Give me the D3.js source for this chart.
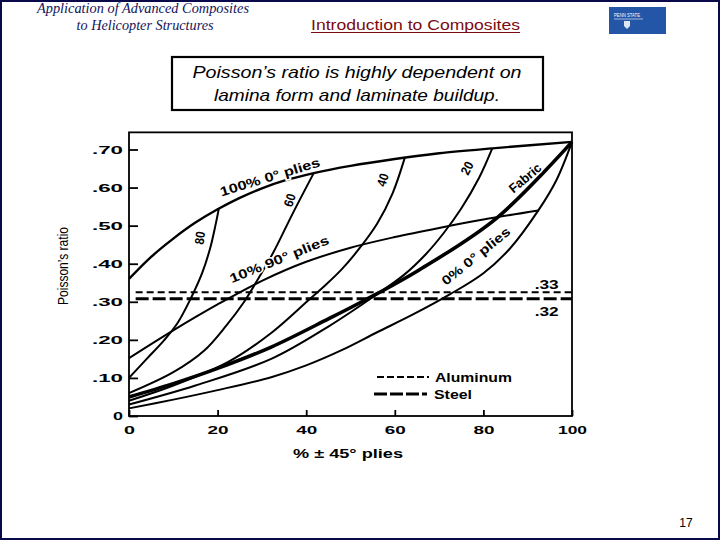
<!DOCTYPE html>
<html><head><meta charset="utf-8">
<script src="https://cdn.jsdelivr.net/npm/d3@7"></script>
<style>
html,body{margin:0;padding:0;background:#fff;}
svg{display:block;}
</style></head>
<body>
<svg id="chart" width="720" height="540"></svg>
<script>
// ---------- data ----------
const xTickValues = [0, 20, 40, 60, 80, 100];
const xTickLabels = ["0", "20", "40", "60", "80", "100"];
const yTickValues = [0, 0.1, 0.2, 0.3, 0.4, 0.5, 0.6, 0.7];
const yTickLabels = ["0", ".10", ".20", ".30", ".40", ".50", ".60", ".70"];

// % ±45° plies  ->  Poisson's ratio
const curve100pct0 = [[0,0.36],[5,0.418],[10,0.466],[15,0.508],[20,0.543],[25,0.573],[30,0.598],[35,0.618],[41.7,0.638],[50,0.657],[60,0.675],[70,0.69],[82,0.703],[100,0.72]];
const curve80 = [[0,0.10],[4,0.15],[8,0.20],[11,0.245],[14,0.31],[16.5,0.375],[18.3,0.44],[19.5,0.50],[20.3,0.546]];
const curve60 = [[0,0.06],[10,0.115],[17,0.172],[22,0.238],[26,0.30],[29.3,0.363],[32.6,0.43],[37,0.533],[41.7,0.638]];
const curve40 = [[0,0.04],[10,0.08],[22.4,0.142],[32.1,0.218],[40.5,0.304],[44,0.34],[48,0.385],[52,0.44],[56,0.505],[59.5,0.585],[62.3,0.68]];
const curve20 = [[0,0.03],[15,0.08],[32.1,0.15],[45,0.235],[56,0.32],[62,0.37],[67,0.425],[71,0.48],[75,0.545],[79,0.625],[82,0.703]];
const curveFabric = [[0,0.05],[10,0.085],[20,0.125],[32.1,0.181],[45,0.255],[53.2,0.304],[65.4,0.383],[83,0.52],[100,0.72]];
const curve0pct0 = [[0,0.02],[10,0.043],[20,0.068],[32.1,0.102],[40,0.133],[48,0.173],[56,0.22],[64,0.266],[72.5,0.32],[80,0.375],[86,0.44],[92.4,0.54],[96.5,0.62],[100,0.72]];
const curve10pct90 = [[0,0.152],[10,0.225],[20,0.293],[30,0.355],[40,0.405],[50,0.442],[60,0.47],[70,0.494],[80,0.516],[92.4,0.54]];

const aluminumNu = 0.325;
const steelNu = 0.308;
const materialNames = ["Aluminum", "Steel"];
const materialLabels = [".33", ".32"];

const curveLabels = ["100% 0° plies", "80", "60", "40", "20", "Fabric", "10% 90° plies", "0% 0° plies"];

// ---------- drawing ----------
const svg = d3.select("#chart");
const FONT = "'Liberation Sans', Arial, Helvetica, sans-serif";

// slide border
svg.append("rect").attr("x", 1).attr("y", 1).attr("width", 718).attr("height", 538)
  .attr("fill", "#fff").attr("stroke", "#0a0a4a").attr("stroke-width", 2);

// header left
svg.append("text").attr("x", 143).attr("y", 13).attr("text-anchor", "middle")
  .attr("font-family", "'Liberation Serif', 'DejaVu Serif', serif").attr("font-style", "italic")
  .attr("font-size", 15).attr("fill", "#14145a").attr("textLength", 212).attr("lengthAdjust", "spacingAndGlyphs")
  .text("Application of Advanced Composites");
svg.append("text").attr("x", 145).attr("y", 30).attr("text-anchor", "middle")
  .attr("font-family", "'Liberation Serif', 'DejaVu Serif', serif").attr("font-style", "italic")
  .attr("font-size", 15).attr("fill", "#14145a").attr("textLength", 137).attr("lengthAdjust", "spacingAndGlyphs")
  .text("to Helicopter Structures");

// header center
svg.append("text").attr("x", 311).attr("y", 30)
  .attr("font-family", FONT).attr("font-size", 15).attr("fill", "#7a0a10")
  .attr("textLength", 209).attr("lengthAdjust", "spacingAndGlyphs")
  .text("Introduction to Composites");
svg.append("line").attr("x1", 311).attr("x2", 520).attr("y1", 32.5).attr("y2", 32.5)
  .attr("stroke", "#7a0a10").attr("stroke-width", 1.2);

// logo
const logo = svg.append("g");
logo.append("rect").attr("x", 609).attr("y", 7).attr("width", 57).attr("height", 27).attr("fill", "#2456a8");
logo.append("text").attr("x", 614).attr("y", 17).attr("font-family", FONT).attr("font-size", 6)
  .attr("fill", "#fff").attr("textLength", 26).attr("lengthAdjust", "spacingAndGlyphs").text("PENN STATE");
logo.append("line").attr("x1", 614).attr("x2", 643).attr("y1", 19).attr("y2", 19).attr("stroke", "#fff").attr("stroke-width", 0.6);
logo.append("path").attr("d", "M624,21 h6 v5 l-3,3 l-3,-3 z").attr("fill", "#dfe6f3");

// title box
svg.append("rect").attr("x", 172).attr("y", 57).attr("width", 371).attr("height", 53)
  .attr("fill", "#fff").attr("stroke", "#000").attr("stroke-width", 2.2);
svg.append("text").attr("x", 357).attr("y", 78).attr("text-anchor", "middle")
  .attr("font-family", FONT).attr("font-style", "italic").attr("font-size", 17)
  .attr("textLength", 329).attr("lengthAdjust", "spacingAndGlyphs")
  .text("Poisson’s ratio is highly dependent on");
svg.append("text").attr("x", 357).attr("y", 101).attr("text-anchor", "middle")
  .attr("font-family", FONT).attr("font-style", "italic").attr("font-size", 17)
  .attr("textLength", 286).attr("lengthAdjust", "spacingAndGlyphs")
  .text("lamina form and laminate buildup.");

// page number
svg.append("text").attr("x", 686).attr("y", 527).attr("text-anchor", "middle")
  .attr("font-family", FONT).attr("font-size", 12).text("17");

// scales
const x = d3.scaleLinear().domain([0, 100]).range([129, 572]);
const y = d3.scaleLinear().domain([0, 0.7]).range([416, 149.5]);
const yTop = 0.745;

// frame
const plot = svg.append("g");
plot.append("rect").attr("x", x(0)).attr("y", y(yTop)).attr("width", x(100) - x(0)).attr("height", y(0) - y(yTop))
  .attr("fill", "none").attr("stroke", "#000").attr("stroke-width", 1.8);

// axes
const yAxis = d3.axisLeft(y).tickValues(yTickValues).tickFormat((d, i) => yTickLabels[i])
  .tickSizeInner(-9).tickSizeOuter(0).tickPadding(6);
const gy = plot.append("g").attr("transform", `translate(${x(0)},0)`).call(yAxis);
gy.select(".domain").remove();
gy.selectAll(".tick line").attr("stroke", "#000").attr("stroke-width", 1.8);
gy.selectAll(".tick text").attr("font-family", FONT).attr("font-weight", "bold").attr("font-size", 11.5)
  .attr("fill", "#000").attr("lengthAdjust", "spacingAndGlyphs")
  .attr("textLength", (d, i) => yTickLabels[i].length === 1 ? 10 : 31);

const xAxis = d3.axisBottom(x).tickValues(xTickValues).tickFormat((d, i) => xTickLabels[i])
  .tickSizeInner(-6).tickSizeOuter(0).tickPadding(10);
const gx = plot.append("g").attr("transform", `translate(0,${y(0)})`).call(xAxis);
gx.select(".domain").remove();
gx.selectAll(".tick line").attr("stroke", "#000").attr("stroke-width", 1.8);
gx.selectAll(".tick text").attr("font-family", FONT).attr("font-weight", "bold").attr("font-size", 11.5)
  .attr("fill", "#000").attr("lengthAdjust", "spacingAndGlyphs")
  .attr("textLength", (d, i) => xTickLabels[i].length === 1 ? 11 : (xTickLabels[i].length === 2 ? 21 : 29));

// axis titles
svg.append("text").attr("x", 348).attr("y", 458).attr("text-anchor", "middle")
  .attr("font-family", FONT).attr("font-weight", "bold").attr("font-size", 12.5)
  .attr("textLength", 110).attr("lengthAdjust", "spacingAndGlyphs")
  .text("%  ± 45° plies");
svg.append("text").attr("transform", "translate(68,266) rotate(-90)").attr("text-anchor", "middle")
  .attr("font-family", FONT).attr("font-size", 15)
  .attr("textLength", 78).attr("lengthAdjust", "spacingAndGlyphs")
  .text("Poisson’s ratio");

// curves
const line = d3.line().x(d => x(d[0])).y(d => y(d[1])).curve(d3.curveCatmullRom.alpha(0.5));
const curves = [
  { data: curve100pct0, w: 2.4 },
  { data: curve80, w: 2 },
  { data: curve60, w: 2 },
  { data: curve40, w: 2 },
  { data: curve20, w: 2 },
  { data: curve0pct0, w: 2 },
  { data: curve10pct90, w: 2 },
  { data: curveFabric, w: 3.6 }
];
plot.selectAll("path.curve").data(curves).enter().append("path").attr("class", "curve")
  .attr("d", d => line(d.data)).attr("fill", "none").attr("stroke", "#000")
  .attr("stroke-width", d => d.w).attr("stroke-linejoin", "round");

// material reference lines
plot.append("line").attr("x1", x(1.5)).attr("x2", x(100)).attr("y1", y(aluminumNu)).attr("y2", y(aluminumNu))
  .attr("stroke", "#000").attr("stroke-width", 2).attr("stroke-dasharray", "7,4");
plot.append("line").attr("x1", x(1.5)).attr("x2", x(100)).attr("y1", y(steelNu)).attr("y2", y(steelNu))
  .attr("stroke", "#000").attr("stroke-width", 3).attr("stroke-dasharray", "13,4");

const valFont = (sel) => sel.attr("font-family", FONT).attr("font-weight", "bold").attr("font-size", 13)
  .attr("textLength", 24).attr("lengthAdjust", "spacingAndGlyphs").attr("text-anchor", "middle");
plot.append("text").attr("x", x(94.3)).attr("y", y(aluminumNu) - 3).call(valFont).text(materialLabels[0]);
plot.append("text").attr("x", x(94.3)).attr("y", y(steelNu) + 17).call(valFont).text(materialLabels[1]);

// legend
const leg = plot.append("g");
leg.append("line").attr("x1", 377).attr("x2", 429).attr("y1", 377).attr("y2", 377)
  .attr("stroke", "#000").attr("stroke-width", 2).attr("stroke-dasharray", "7,3");
leg.append("line").attr("x1", 374).attr("x2", 427).attr("y1", 394).attr("y2", 394)
  .attr("stroke", "#000").attr("stroke-width", 3).attr("stroke-dasharray", "13,3");
leg.append("text").attr("x", 435).attr("y", 381.5).attr("font-family", FONT).attr("font-weight", "bold")
  .attr("font-size", 13).attr("textLength", 77).attr("lengthAdjust", "spacingAndGlyphs").text(materialNames[0]);
leg.append("text").attr("x", 434).attr("y", 398.5).attr("font-family", FONT).attr("font-weight", "bold")
  .attr("font-size", 13).attr("textLength", 38).attr("lengthAdjust", "spacingAndGlyphs").text(materialNames[1]);

// curve labels (placed in data coordinates, rotated along curves)
const labelPlacement = [
  { px: 31.8, py: 0.628, a: -17, len: 104 },
  { px: 16.0, py: 0.468, a: -82, len: 13 },
  { px: 36.3, py: 0.567, a: -72, len: 13 },
  { px: 57.3, py: 0.620, a: -72, len: 13 },
  { px: 76.3, py: 0.651, a: -62, len: 13 },
  { px: 89.4, py: 0.625, a: -40, len: 38 },
  { px: 33.9, py: 0.412, a: -22, len: 106 },
  { px: 78.3, py: 0.420, a: -39, len: 84 }
];
plot.selectAll("text.clabel").data(curveLabels).enter().append("text").attr("class", "clabel")
  .attr("transform", (d, i) => `translate(${x(labelPlacement[i].px)},${y(labelPlacement[i].py)}) rotate(${labelPlacement[i].a})`)
  .attr("text-anchor", "middle").attr("dominant-baseline", "central")
  .attr("font-family", FONT).attr("font-weight", "bold").attr("font-size", 13)
  .attr("textLength", (d, i) => labelPlacement[i].len).attr("lengthAdjust", "spacingAndGlyphs")
  .attr("fill", "#000").attr("stroke", "#fff").attr("stroke-width", 3).attr("paint-order", "stroke")
  .text(d => d);
</script>
</body></html>
